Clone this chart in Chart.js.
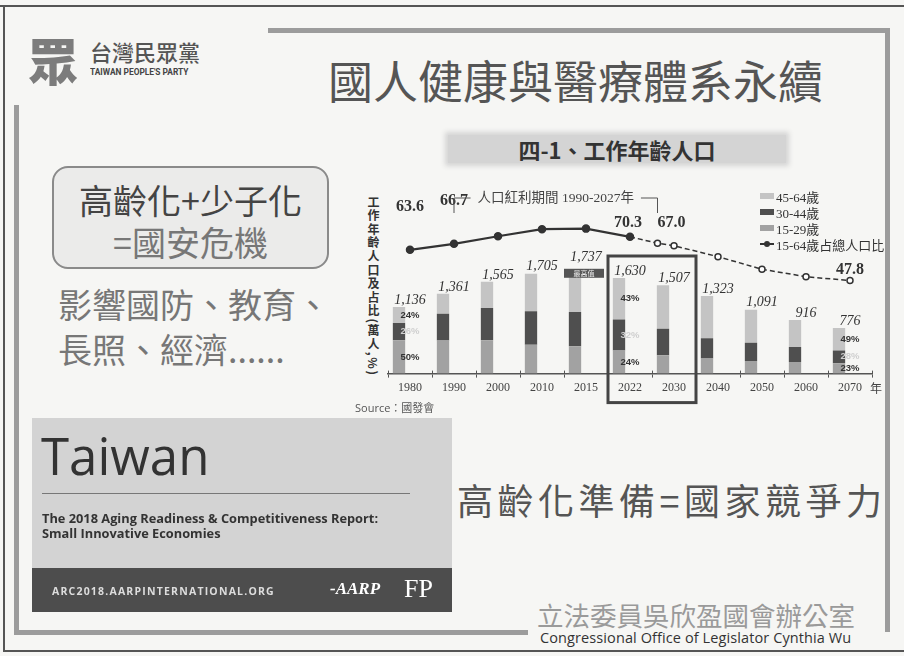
<!DOCTYPE html>
<html lang="zh-Hant">
<head>
<meta charset="utf-8">
<title>國人健康與醫療體系永續 - 工作年齡人口</title>
<script src="https://cdn.jsdelivr.net/npm/chart.js@4.4.1/dist/chart.umd.min.js"></script>
<style>
  html, body { margin: 0; padding: 0; }
  body {
    width: 904px; height: 656px; position: relative; overflow: hidden;
    background: #f6f6f4; color: #444;
    font-family: "Noto Sans CJK TC", "Noto Sans", sans-serif;
  }
  .abs { position: absolute; }
  .line { position: absolute; background: #555; }
  .frame { position: absolute; background: #9c9c9c; }
  .t { position: absolute; line-height: 1; white-space: nowrap; }
  #crisis {
    left: 52px; top: 166px; width: 273px; height: 99px;
    border: 2px solid #8a8a8a; border-radius: 16px; background: #ebebea;
  }
  #crisis div { position: absolute; left: 0; right: 0; text-align: center; line-height: 1; font-size: 34px; }
  #titleBand {
    left: 448px; top: 135px; width: 338px; height: 28px; background: #d4d4d4;
    box-shadow: 0 0 5px 3px #d4d4d4;
    text-align: center; font-size: 22px; font-weight: 700; color: #333; line-height: 28px;
  }
  #yTitle {
    left: 367px; top: 196px; writing-mode: vertical-rl; text-orientation: mixed;
    font-size: 12px; font-weight: 700; letter-spacing: 1.6px; color: #333; line-height: 1;
  }
  #legend { left: 760px; top: 188px; font-family: "Liberation Serif", "Noto Sans CJK TC", serif; font-size: 13px; color: #333; }
  #legend .row { height: 16px; display: flex; align-items: center; white-space: nowrap; }
  #legend .sw { display: inline-block; width: 14px; height: 6px; margin-right: 2px; }
  #legend .ln { display: inline-block; width: 14px; height: 2px; background: #333; margin-right: 2px; position: relative; }
  #legend .ln i { position: absolute; left: 4px; top: -2px; width: 6px; height: 6px; border-radius: 50%; background: #333; }
  #chartBox { left: 340px; top: 170px; width: 564px; height: 250px; }
  #report { left: 32px; top: 418px; width: 420px; height: 194px; background: #d3d3d3; }
  #report .band { position: absolute; left: 0; top: 150px; width: 420px; height: 44px; background: #4d4d4d; }
</style>
</head>
<body>

<!-- slide frame -->
<div class="line" style="left:0;top:5px;width:904px;height:2px;"></div>
<div class="line" style="left:3px;top:5px;width:2px;height:647px;"></div>
<div class="line" style="left:3px;top:650px;width:901px;height:2px;"></div>
<div class="frame" style="left:268px;top:28px;width:622px;height:5px;"></div>
<div class="frame" style="left:885px;top:28px;width:5px;height:604px;"></div>
<div class="frame" style="left:14px;top:105px;width:5px;height:530px;"></div>
<div class="frame" style="left:14px;top:630px;width:514px;height:5px;"></div>

<!-- header -->
<div class="t" style="left:28px;top:34px;font-size:50px;font-weight:900;color:#7c7c7c;">眾</div>
<div class="t" style="left:90px;top:40px;font-size:22px;font-weight:500;color:#555;">台灣民眾黨</div>
<div class="t" style="left:90px;top:67px;font-size:9.5px;font-weight:700;color:#444;font-family:'Roboto',sans-serif;transform:scaleX(0.88);transform-origin:left;">TAIWAN PEOPLE'S PARTY</div>
<div class="t" style="left:328px;top:57px;font-size:45px;color:#555;">國人健康與醫療體系永續</div>

<!-- left messages -->
<div id="crisis" class="abs">
  <div style="top:15px;color:#444;">高齡化+少子化</div>
  <div style="top:57px;color:#777;">=國安危機</div>
</div>
<div class="t" style="left:58px;top:287px;font-size:34px;color:#777;">影響國防、教育、</div>
<div class="t" style="left:58px;top:332px;font-size:34px;color:#777;">長照、經濟......</div>

<!-- chart -->
<div id="titleBand" class="abs">四-1、工作年齡人口</div>
<div id="yTitle" class="abs">工作年齡人口及占比(萬人,%)</div>
<div id="chartBox" class="abs"><canvas id="grafico" width="564" height="250"></canvas></div>
<div id="legend" class="abs"></div>
<div class="t" style="left:355px;top:402px;font-size:11px;color:#555;font-family:'Open Sans','Noto Sans CJK TC',sans-serif;">Source：國發會</div>

<!-- AARP report card -->
<div id="report" class="abs">
  <div class="t" style="left:9px;top:12px;font-size:51px;color:#333;font-family:'Open Sans',sans-serif;">Taiwan</div>
  <div class="abs" style="left:10px;top:75px;width:368px;height:1px;background:#777;"></div>
  <div class="t" style="left:10px;top:93px;font-size:12.8px;font-weight:700;color:#333;font-family:'Open Sans',sans-serif;line-height:15px;">The 2018 Aging Readiness &amp; Competitiveness Report:<br>Small Innovative Economies</div>
  <div class="band">
    <div class="t" style="left:20px;top:18px;font-size:10.5px;font-weight:700;letter-spacing:1.2px;color:#ddd;font-family:'Open Sans',sans-serif;">ARC2018.AARPINTERNATIONAL.ORG</div>
    <div class="t" style="left:298px;top:12px;font-size:17px;font-weight:700;font-style:italic;color:#fff;font-family:'Liberation Serif',serif;">-AARP</div>
    <div class="t" style="left:372px;top:8px;font-size:26px;color:#fff;font-family:'Liberation Serif',serif;">FP</div>
  </div>
</div>

<!-- right messages -->
<div class="t" style="left:457px;top:481px;font-size:36px;letter-spacing:4.5px;color:#555;">高齡化準備=國家競爭力</div>
<div class="t" style="left:537px;top:602px;font-size:26.5px;color:#9a9a9a;">立法委員吳欣盈國會辦公室</div>
<div class="t" style="left:540px;top:631px;font-size:14.5px;letter-spacing:0.1px;color:#333;font-family:'Open Sans',sans-serif;">Congressional Office of Legislator Cynthia Wu</div>

<script>
// ===== 資料 =====
const years = ['1980', '1990', '2000', '2010', '2015', '2022', '2030', '2040', '2050', '2060', '2070'];
const age15to29 = [568, 566, 569, 494, 468, 396, 312, 259, 213, 199, 178];
const age30to44 = [295, 454, 552, 568, 584, 527, 455, 345, 315, 255, 217];
const age45to64 = [273, 341, 444, 643, 685, 707, 740, 719, 563, 462, 381];
const seriesNames = ['45-64歲', '30-44歲', '15-29歲', '15-64歲占總人口比'];

// 15-64歲占總人口比 (%)
const shareYears = [1980, 1990, 2000, 2010, 2015, 2022, 2027, 2030, 2040, 2050, 2060, 2070];
const shareValues = [63.6, 66.7, 70.6, 74.2, 74.5, 70.3, 67.0, 65.7, 60.1, 53.6, 49.8, 47.8];
const shareLabelYears = [1980, 1990, 2022, 2027, 2070];
const pctLabelYears = ['1980', '2022', '2070'];
const highlightYears = ['2022', '2030'];
const lastActualYear = 2022;
const dividendText = '人口紅利期間 1990-2027年';
const dividendStart = 1990, dividendEnd = 2027;
const peakText = '最高值';

// ===== 樣式 =====
const colors = { age45: '#c4c4c4', age30: '#4f4f4f', age15: '#a2a2a2', line: '#333' };

// 年份 -> 類別軸上的位置 (含 2027 這種不在類別中的年份)
function yearPos(yr) {
    const nums = years.map(Number);
    for (let i = 0; i < nums.length - 1; i++) {
        if (yr >= nums[i] && yr <= nums[i + 1]) return i + (yr - nums[i]) / (nums[i + 1] - nums[i]);
    }
    return nums.length - 1;
}
const totals = years.map((_, i) => age15to29[i] + age30to44[i] + age45to64[i]);
const peakIdx = totals.indexOf(Math.max(...totals));
const lastActualPos = yearPos(lastActualYear);

// legend (HTML)
const legendEl = document.getElementById('legend');
[colors.age45, colors.age30, colors.age15].forEach((c, i) => {
    legendEl.innerHTML += `<div class="row"><span class="sw" style="background:${c}"></span>${seriesNames[i]}</div>`;
});
legendEl.innerHTML += `<div class="row"><span class="ln"><i></i></span>${seriesNames[3]}</div>`;

// ===== 標註 plugin =====
const serif = '"Liberation Serif", "Noto Sans CJK TC", serif';
// 數值標籤的位移 (dx, 上移量)
const shareLabelShift = { 1980: [0, 43], 1990: [0, 43], 2022: [-2, 14], 2027: [14, 20], 2070: [0, 11] };

const annotations = {
    id: 'annotations',
    afterDraw(chart) {
        const { ctx, chartArea: ca, scales: { x, y, xl, y2 } } = chart;
        ctx.save();
        ctx.textAlign = 'center';
        ctx.textBaseline = 'middle';

        // tick marks above the axis line too
        const half = (x.getPixelForValue(1) - x.getPixelForValue(0)) / 2;
        ctx.strokeStyle = '#555';
        ctx.lineWidth = 1;
        ctx.beginPath();
        for (let i = 0; i <= years.length; i++) {
            const tx = Math.round(x.getPixelForValue(0) - half + i * half * 2) + 0.5;
            ctx.moveTo(tx, ca.bottom - 3); ctx.lineTo(tx, ca.bottom);
        }
        ctx.stroke();

        // 最高值 box
        const pX = x.getPixelForValue(peakIdx);
        const pTop = y.getPixelForValue(totals[peakIdx]);
        ctx.fillStyle = '#555';
        ctx.fillRect(pX - 22, pTop - 3, 40, 9);
        ctx.fillStyle = '#eee';
        ctx.font = '7px "Noto Sans CJK TC"';
        ctx.fillText(peakText, pX - 2, pTop + 1.5);

        // totals above bars
        ctx.fillStyle = '#333';
        ctx.font = 'italic 14px ' + serif;
        totals.forEach((t, i) => {
            const px = x.getPixelForValue(i);
            const top = y.getPixelForValue(t);
            ctx.fillText(t.toLocaleString('en-US'), px, top - (i === peakIdx ? 14 : 7));
        });

        // percentage labels inside bars
        ctx.font = 'bold 9.5px "Liberation Sans", sans-serif';
        pctLabelYears.forEach(yr => {
            const i = years.indexOf(yr);
            const segs = [age15to29[i], age30to44[i], age45to64[i]];
            let base = 0;
            segs.forEach((v, k) => {
                const mid = y.getPixelForValue(base + v / 2);
                ctx.fillStyle = k === 1 ? '#cfcfcf' : '#333';
                ctx.fillText(Math.round(v / totals[i] * 100) + '%', x.getPixelForValue(i), mid);
                base += v;
            });
        });

        // share labels
        ctx.fillStyle = '#333';
        ctx.font = 'bold 16px ' + serif;
        shareLabelYears.forEach(yr => {
            const k = shareYears.indexOf(yr);
            const px = xl.getPixelForValue(yearPos(yr));
            const py = y2.getPixelForValue(shareValues[k]);
            const [dx, lift] = shareLabelShift[yr];
            ctx.fillText(shareValues[k].toFixed(1), px + dx, py - lift);
        });

        // 人口紅利 bracket
        const bx1 = xl.getPixelForValue(yearPos(dividendStart));
        const bx2 = xl.getPixelForValue(yearPos(dividendEnd));
        const by = ca.top + 19;
        ctx.fillStyle = '#444';
        ctx.font = '13.5px ' + serif;
        const tw = ctx.measureText(dividendText).width;
        const mid = (bx1 + bx2) / 2;
        ctx.fillText(dividendText, mid, by);
        ctx.strokeStyle = '#555';
        ctx.lineWidth = 1;
        ctx.beginPath();
        ctx.moveTo(bx1, by + 15); ctx.lineTo(bx1, by); ctx.lineTo(mid - tw / 2 - 7, by);
        ctx.moveTo(mid + tw / 2 + 7, by); ctx.lineTo(bx2, by); ctx.lineTo(bx2, by + 15);
        ctx.stroke();

        // highlight box 2022-2030
        const i1 = years.indexOf(highlightYears[0]), i2 = years.indexOf(highlightYears[1]);
        const hx1 = x.getPixelForValue(i1) - half, hx2 = x.getPixelForValue(i2) + half;
        ctx.strokeStyle = '#444';
        ctx.lineWidth = 3;
        ctx.strokeRect(hx1, ca.top + 77, hx2 - hx1, ca.bottom + 29 - (ca.top + 77));

        // 年
        ctx.fillStyle = '#444';
        ctx.font = '12px "Noto Sans CJK TC"';
        ctx.fillText('年', ca.right + 4, ca.bottom + 15);
        ctx.restore();
    }
};

// ===== 圖表 =====
new Chart(document.getElementById('grafico'), {
    data: {
        labels: years,
        datasets: [
            { type: 'bar', label: seriesNames[2], data: age15to29, backgroundColor: colors.age15, stack: 'pop' },
            { type: 'bar', label: seriesNames[1], data: age30to44, backgroundColor: colors.age30, stack: 'pop' },
            { type: 'bar', label: seriesNames[0], data: age45to64, backgroundColor: colors.age45, stack: 'pop' },
            {
                type: 'line',
                label: seriesNames[3],
                xAxisID: 'xl',
                yAxisID: 'y2',
                data: shareYears.map((yr, i) => ({ x: yearPos(yr), y: shareValues[i] })),
                borderColor: colors.line,
                borderWidth: 2.2,
                pointRadius: shareYears.map(yr => yr <= lastActualYear ? 3.5 : 3),
                pointBackgroundColor: shareYears.map(yr => yr <= lastActualYear ? colors.line : '#fff'),
                pointBorderColor: colors.line,
                pointBorderWidth: 1.5,
                segment: {
                    borderDash: ctx => ctx.p0.parsed.x >= lastActualPos ? [5, 3] : undefined,
                    borderWidth: ctx => ctx.p0.parsed.x >= lastActualPos ? 1.5 : 2.2
                }
            }
        ]
    },
    options: {
        responsive: false,
        animation: false,
        devicePixelRatio: 1,
        layout: { padding: { left: 48, right: 32, top: 9, bottom: 22 } },
        plugins: { legend: { display: false }, tooltip: { enabled: false } },
        datasets: { bar: { barPercentage: 0.56, categoryPercentage: 1 } },
        scales: {
            x: {
                type: 'category', stacked: true, offset: true,
                grid: { drawOnChartArea: false, tickLength: 4, color: '#555', offset: true },
                border: { color: '#555', width: 1.5 },
                ticks: { color: '#444', padding: 3, font: { family: '"Liberation Serif", serif', size: 12 } }
            },
            y: { stacked: true, display: false, min: 0, max: 3320 },
            xl: { type: 'linear', display: false, min: -0.5, max: years.length - 0.5 },
            y2: { type: 'linear', display: false, min: 0, max: 100 }
        }
    },
    plugins: [annotations]
});
</script>
</body>
</html>
